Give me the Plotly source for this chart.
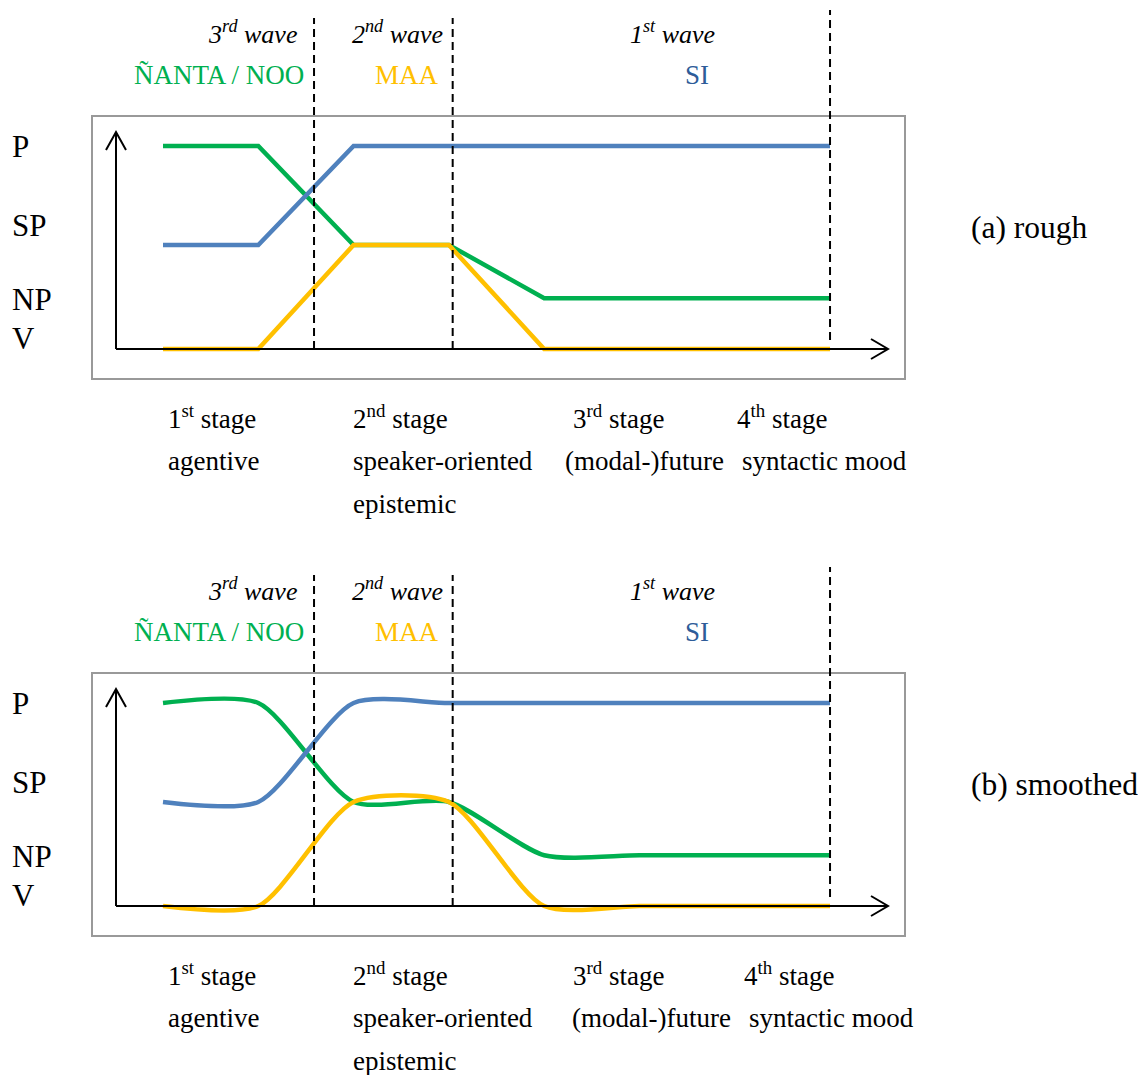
import plotly.graph_objects as go

# ---------------- data ----------------
stage_x = [1, 2, 3, 4, 5, 6, 7, 8]                     # category positions
nanta_noo = [4, 4, 2.05, 2.05, 1.0, 1.0, 1.0, 1.0]     # green  (ÑANTA / NOO)
maa = [0, 0, 2.05, 2.05, 0, 0, 0, 0]                   # yellow (MAA)
si = [2.05, 2.05, 4, 4, 4, 4, 4, 4]                    # blue   (SI)
wave_bounds = [2.585, 4.04, 8.0]                       # dashed wave boundaries

level_labels = ["P", "SP", "NP", "V"]
level_label_y = [4, 2.43, 0.97, 0.2]

wave_labels = ["3<sup>rd</sup> wave", "2<sup>nd</sup> wave", "1<sup>st</sup> wave"]
item_labels = ["ÑANTA / NOO", "MAA", "SI"]
stage_top = ["1<sup>st</sup> stage", "2<sup>nd</sup> stage", "3<sup>rd</sup> stage", "4<sup>th</sup> stage"]
stage_mid = ["agentive", "speaker-oriented", "(modal-)future", "syntactic mood"]
stage_low = ["", "epistemic", "", ""]
panel_names = ["(a) rough", "(b) smoothed"]

GREEN, YELLOW, BLUE = "#00B050", "#FFC000", "#4F81BD"
SI_TXT = "#2E5C99"
FONT = "Liberation Serif, Times New Roman, serif"

# page body margin of the browser shifts the figure by 8 px
OFF = 8
W, H = 1146 - OFF, 1075 - OFF
PXU_X, PXU_Y = 95.29, 50.75      # pixels per data unit
X0PX = 163                        # pixel of x = 1

def xd(px):
    return 1 + (px - X0PX) / PXU_X

def px_x(p):
    return (p - OFF) / W

def py(p):
    return 1 - (p - OFF) / H

fig = go.Figure()
annotations = []
shapes = []

panels = [dict(off=0, shape="linear", sx=0), dict(off=557, shape="spline", sx=7)]

for i, pnl in enumerate(panels):
    off = pnl["off"]
    base = 349 + off            # pixel for y = 0
    box_top, box_bot = 117 + off, 378 + off

    def yd(p, base=base):
        return (base - p) / PXU_Y

    xa = "x" if i == 0 else "x2"
    ya = "y" if i == 0 else "y2"
    xkey = "xaxis" if i == 0 else "xaxis2"
    ykey = "yaxis" if i == 0 else "yaxis2"

    fig.update_layout({
        xkey: dict(domain=[px_x(93), px_x(904)], range=[xd(93), xd(904)], anchor=ya,
                   showline=True, mirror=True, linecolor="#999999", linewidth=1.5,
                   showgrid=False, zeroline=False, showticklabels=False, ticks="", fixedrange=True),
        ykey: dict(domain=[py(box_bot), py(box_top)], range=[yd(box_bot), yd(box_top)], anchor=xa,
                   showline=True, mirror=True, linecolor="#999999", linewidth=1.5,
                   showgrid=False, zeroline=False, showticklabels=False, ticks="", fixedrange=True),
    })

    for vals, col in [(nanta_noo, GREEN), (si, BLUE), (maa, YELLOW)]:
        fig.add_trace(go.Scatter(x=stage_x, y=vals, mode="lines", xaxis=xa, yaxis=ya,
                                 line=dict(color=col, width=4.5, shape=pnl["shape"], smoothing=0.7),
                                 showlegend=False, hoverinfo="skip"))

    # axes arrows
    line_k = dict(color="black", width=2)
    shapes.append(dict(type="line", xref=xa, yref=ya, x0=xd(116), x1=xd(888), y0=0, y1=0,
                       line=line_k, layer="above"))
    shapes.append(dict(type="path", xref=xa, yref=ya, layer="above", line=line_k,
                       path=f"M{xd(871)},{yd(base-10)} L{xd(888)},0 L{xd(871)},{yd(base+10)}"))
    shapes.append(dict(type="line", xref=xa, yref=ya, x0=xd(116), x1=xd(116), y0=0, y1=yd(132 + off),
                       line=line_k, layer="above"))
    shapes.append(dict(type="path", xref=xa, yref=ya, layer="above", line=line_k,
                       path=f"M{xd(106)},{yd(150+off)} L{xd(116)},{yd(132+off)} L{xd(126)},{yd(150+off)}"))

    # dashed wave boundaries
    for j, wb in enumerate(wave_bounds):
        top = (18 if j < 2 else 10) + off
        bot = (349 if j < 2 else 340) + off
        shapes.append(dict(type="line", xref=xa, yref="paper", x0=wb, x1=wb, y0=py(bot), y1=py(top),
                           line=dict(color="black", width=2, dash="8px,5px"), layer="above"))

    # wave labels
    wave_pos = [(299, "right"), (350, "left"), (628, "left")]
    for txt, (xp, anc) in zip(wave_labels, wave_pos):
        annotations.append(dict(text=f"<i>{txt}</i>", x=px_x(xp), y=py(32 + off), xref="paper", yref="paper",
                                xanchor=anc, yanchor="middle", showarrow=False,
                                font=dict(family=FONT, size=26, color="black")))
    item_pos = [(306, "right", GREEN), (373, "left", YELLOW), (683, "left", SI_TXT)]
    for txt, (xp, anc, col) in zip(item_labels, item_pos):
        annotations.append(dict(text=txt, x=px_x(xp), y=py(75 + off), xref="paper", yref="paper",
                                xanchor=anc, yanchor="middle", showarrow=False,
                                font=dict(family=FONT, size=27, color=col)))

    # level labels
    for txt, yv in zip(level_labels, level_label_y):
        annotations.append(dict(text=txt, x=px_x(10), y=yv, xref="paper", yref=ya,
                                xanchor="left", yanchor="middle", showarrow=False,
                                font=dict(family=FONT, size=31, color="black")))

    # panel name
    annotations.append(dict(text=panel_names[i], x=px_x(969), y=py(227 + off), xref="paper", yref="paper",
                            xanchor="left", yanchor="middle", showarrow=False,
                            font=dict(family=FONT, size=31.5, color="black")))

    # stage labels
    sx = pnl["sx"]
    top_x = [166, 351, 571, 735 + sx]
    mid_x = [166, 351, 563 + sx, 740 + sx]
    for k in range(4):
        rows = [(stage_top[k], top_x[k], 417), (stage_mid[k], mid_x[k], 461), (stage_low[k], mid_x[k], 504)]
        for txt, xp, yp in rows:
            if not txt:
                continue
            annotations.append(dict(text=txt, x=px_x(xp), y=py(yp + off), xref="paper", yref="paper",
                                    xanchor="left", yanchor="middle", showarrow=False,
                                    font=dict(family=FONT, size=27, color="black")))

fig.update_layout(width=W, height=H, margin=dict(l=0, r=0, t=0, b=0),
                  paper_bgcolor="white", plot_bgcolor="white",
                  annotations=annotations, shapes=shapes, showlegend=False)

fig.write_html("out.html")
